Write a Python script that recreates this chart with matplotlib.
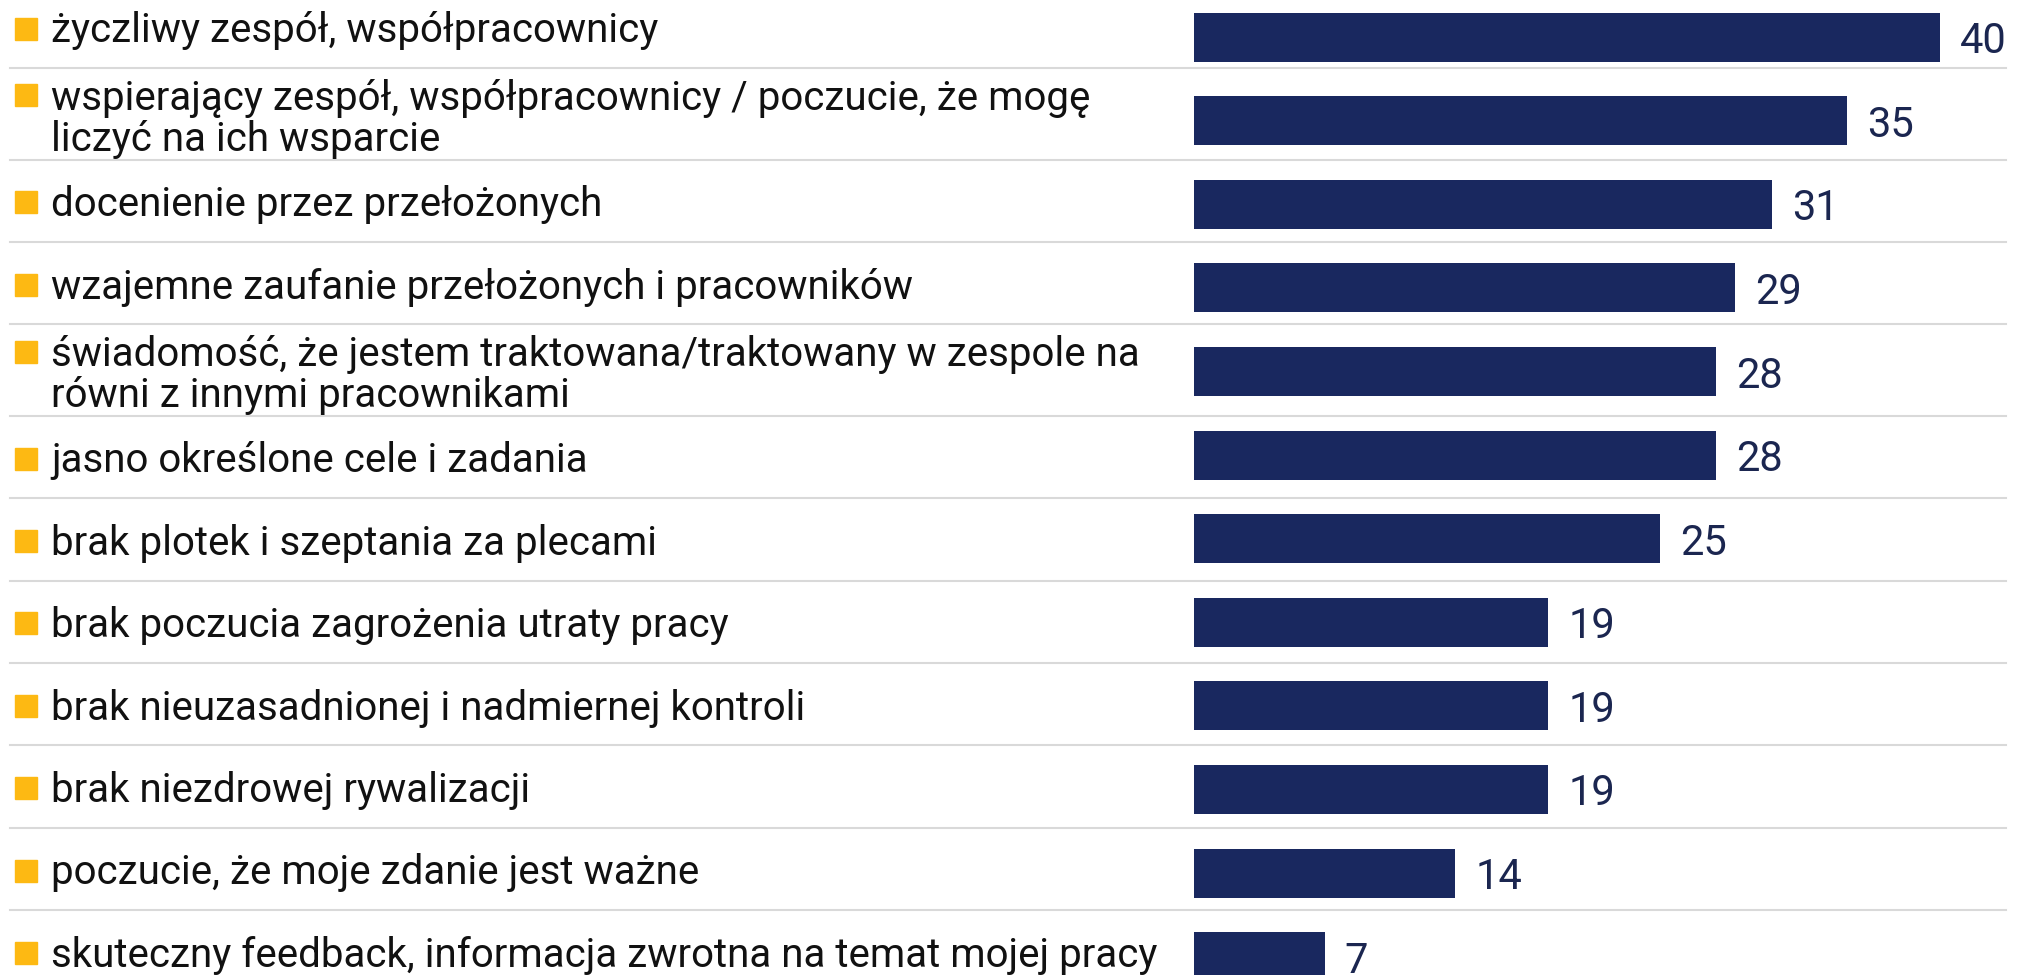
import numpy as np
import matplotlib
matplotlib.use('Agg')
import matplotlib.pyplot as plt
import matplotlib.transforms as mtransforms

plt.rcParams['font.family'] = ['Roboto', 'DejaVu Sans']

labels = [
    'życzliwy zespół, współpracownicy',
    'wspierający zespół, współpracownicy / poczucie, że mogę\nliczyć na ich wsparcie',
    'docenienie przez przełożonych',
    'wzajemne zaufanie przełożonych i pracowników',
    'świadomość, że jestem traktowana/traktowany w zespole na\nrówni z innymi pracownikami',
    'jasno określone cele i zadania',
    'brak plotek i szeptania za plecami',
    'brak poczucia zagrożenia utraty pracy',
    'brak nieuzasadnionej i nadmiernej kontroli',
    'brak niezdrowej rywalizacji',
    'poczucie, że moje zdanie jest ważne',
    'skuteczny feedback, informacja zwrotna na temat mojej pracy',
]
values = [40, 35, 31, 29, 28, 28, 25, 19, 19, 19, 14, 7]

BAR_COLOR = '#19285f'
MARK_COLOR = '#fdb913'
SEP_COLOR = '#d9d9d9'

W, H = 2021, 975
fig = plt.figure(figsize=(W / 100, H / 100), dpi=100)
ax = fig.add_axes([0, 0, 1, 1])

# pixel layout -> data units
x0_px, px_per_unit = 1194, 18.65
row_px, first_px = 83.58, 37.2
ax.set_xlim(-x0_px / px_per_unit, (W - x0_px) / px_per_unit)
ax.set_ylim((H - first_px) / row_px, -first_px / row_px)
ax.axis('off')

ypos = np.arange(len(values))
ax.barh(ypos, values, height=49 / row_px, color=BAR_COLOR, zorder=2)

for y, v in zip(ypos, values):
    ax.text(v + 20 / px_per_unit, y, str(v), fontsize=30, color='#1b2650',
            va='center_baseline', ha='left')

# text rows: single-line 82.4px, two-line 91.4px tall
blend = mtransforms.blended_transform_factory(fig.transFigure, ax.transData)
top = -51.5 / row_px
for lab in labels:
    nl = lab.count('\n') + 1
    h = (82.4 if nl == 1 else 91.4) / row_px
    cy = top + h / 2
    ax.text(51 / W, cy, lab, transform=blend, fontsize=29, color='#111111',
            va='center_baseline', ha='left', linespacing=1.07)
    ax.plot([26 / W], [cy - (nl - 1) * 20 / row_px + 0.02], marker='s',
            markersize=15.5, color=MARK_COLOR, transform=blend, clip_on=False)
    top += h
    if top < (H - first_px) / row_px - 0.3:
        ax.plot([10 / W, 2006 / W], [top, top], color=SEP_COLOR, lw=1.5,
                transform=blend, zorder=1)

fig.savefig('out.png', dpi=100)
